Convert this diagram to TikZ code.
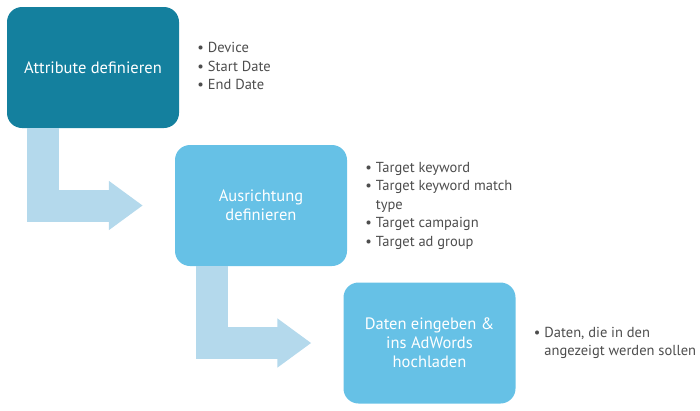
\documentclass[tikz,border=0pt]{standalone}
\usepackage{fontspec}
\setmainfont{PT Sans}
\usetikzlibrary{arrows.meta,positioning,calc}
\definecolor{adteal}{RGB}{20,128,158}
\definecolor{adsky}{RGB}{102,193,230}
\definecolor{adpale}{RGB}{180,217,236}
\definecolor{adgray}{RGB}{77,77,77}
\tikzset{
    stage/.style={
        fill=#1,rounded corners=15pt,minimum width=172pt,minimum height=121pt,
        align=center,text=white,font=\fontsize{16.5}{19}\selectfont
    },
    stage/.default=adsky,
    notes/.style={
        inner sep=0pt,text=adgray,font=\fontsize{14.5}{18.5}\selectfont,
        right=18pt of #1
    },
    fatarrow/.style={
        -{Triangle[length=34pt,width=47pt]},line width=32pt,draw=adpale
    }
}
\newcommand{\notelist}[1]{\begin{tabular}{@{}l@{\hspace{4pt}}l@{}}#1\end{tabular}}

\begin{document}
\begin{tikzpicture}[x=1pt,y=-1pt]
\useasboundingbox (0,0) rectangle (700,410);

\node[stage=adteal] (attr) at (93,67.5) {Attribute definieren};
\node[stage] (ausr) at (261,205.5) {Ausrichtung\\definieren};
\node[stage] (upload) at (429.5,343) {Daten eingeben \&\\ins AdWords\\hochladen};

\node[notes=attr] (attrnotes) {\notelist{%
    •&Device\\
    •&Start Date\\
    •&End Date}};
\node[notes=ausr] (ausrnotes) {\notelist{%
    •&Target keyword\\
    •&Target keyword match\\
    &type\\
    •&Target campaign\\
    •&Target ad group}};
\node[notes=upload] (uploadnotes) {\notelist{%
    •&Daten, die in den\\
    &angezeigt werden sollen}};

\draw[fatarrow] ($(attr.south west)+(36.5pt,0pt)$) |- ($(ausr.west)+(-32pt,0pt)$);
\draw[fatarrow] ($(ausr.south west)+(37pt,0pt)$) |- ($(upload.west)+(-32pt,0pt)$);

\end{tikzpicture}
\end{document}
